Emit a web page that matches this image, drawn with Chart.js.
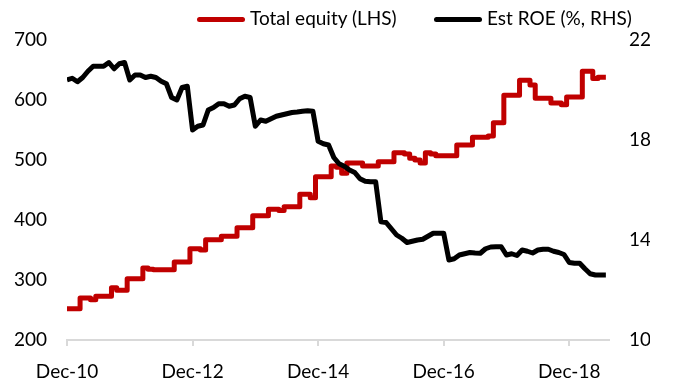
<!DOCTYPE html>
<html>
<head>
<meta charset="utf-8">
<script src="https://cdn.jsdelivr.net/npm/chart.js@4"></script>
<style>
    body { margin: 0; background: #fff; }
    #wrap { position: relative; width: 673px; height: 391px; }
    .legend { position: absolute; top: 6px; font: 19px Lato, sans-serif; color: #000; white-space: nowrap; }
    .legend .swatch { position: absolute; top: 11px; width: 48px; height: 5px; border-radius: 3px; }
    .legend .label { position: absolute; top: 0; }
</style>
</head>
<body>
<div id="wrap">
    <canvas id="chart"></canvas>
    <div class="legend">
        <span class="swatch" style="left:197px;background:#c00000"></span>
        <span class="label" style="left:250px">Total equity (LHS)</span>
        <span class="swatch" style="left:434px;background:#000"></span>
        <span class="label" style="left:487px">Est ROE (%, RHS)</span>
    </div>
</div>
<script>
// Months since Dec-10, one point per month
const tickMonths = [0, 24, 48, 72, 96];
const tickLabels = ['Dec-10', 'Dec-12', 'Dec-14', 'Dec-16', 'Dec-18'];

// Total equity (LHS)
const equity = [
    252, 252, 252, 270, 270, 267, 273, 273, 273, 287,
    283, 283, 302, 302, 302, 320, 318, 317, 317, 317,
    317, 330, 330, 330, 352, 352, 350, 367, 367, 367,
    373, 373, 373, 387, 387, 387, 407, 407, 407, 418,
    418, 416, 422, 422, 422, 443, 443, 437, 472, 472,
    472, 490, 488, 478, 495, 495, 495, 490, 490, 490,
    497, 497, 497, 512, 512, 510, 503, 500, 495, 512,
    510, 507, 507, 507, 507, 525, 525, 525, 538, 538,
    538, 540, 562, 562, 608, 608, 608, 633, 633, 625,
    603, 603, 603, 595, 595, 592, 605, 605, 605, 648,
    648, 636, 638, 638
];

// Est ROE (%, RHS)
const roe = [
    20.4, 20.47, 20.33, 20.5, 20.75, 20.95, 20.95, 20.95, 21.1, 20.85,
    21.05, 21.1, 20.4, 20.6, 20.6, 20.5, 20.55, 20.5, 20.35, 20.25,
    19.7, 19.6, 20.1, 20.15, 18.4, 18.55, 18.6, 19.2, 19.3, 19.45,
    19.45, 19.35, 19.4, 19.65, 19.75, 19.7, 18.55, 18.8, 18.75, 18.85,
    18.95, 19.0, 19.05, 19.1, 19.12, 19.15, 19.17, 19.15, 17.95, 17.85,
    17.8, 17.3, 17.05, 16.95, 16.8, 16.7, 16.45, 16.35, 16.33, 16.33,
    14.73, 14.7, 14.45, 14.2, 14.07, 13.9, 13.95, 14.0, 14.03, 14.15,
    14.27, 14.27, 14.27, 13.2, 13.25, 13.4, 13.45, 13.5, 13.48, 13.47,
    13.65, 13.72, 13.73, 13.73, 13.4, 13.45, 13.38, 13.6, 13.55, 13.48,
    13.6, 13.63, 13.63, 13.55, 13.5, 13.42, 13.1, 13.07, 13.07, 12.85,
    12.65, 12.6, 12.6, 12.6
];

Chart.defaults.font.family = 'Lato, sans-serif';
Chart.defaults.font.size = 19;
Chart.defaults.color = '#000';

const toPoints = arr => arr.map((v, i) => ({ x: i, y: v }));

new Chart(document.getElementById('chart'), {
    type: 'line',
    data: {
        datasets: [{
            label: 'Total equity (LHS)',
            data: toPoints(equity),
            borderColor: '#c00000',
            borderWidth: 5,
            borderJoinStyle: 'round',
            stepped: 'middle',
            pointRadius: 0,
            yAxisID: 'y',
            order: 2
        }, {
            label: 'Est ROE (%, RHS)',
            data: toPoints(roe),
            borderColor: '#000',
            borderWidth: 5,
            borderJoinStyle: 'round',
            pointRadius: 0,
            yAxisID: 'y2',
            order: 1
        }]
    },
    options: {
        responsive: true,
        maintainAspectRatio: false,
        animation: false,
        layout: { padding: { top: 40, left: 14, right: 23, bottom: 0 } },
        plugins: {
            legend: { display: false },
            tooltip: { enabled: false }
        },
        scales: {
            x: {
                type: 'linear',
                min: 0,
                max: 103.6,
                afterBuildTicks: s => { s.ticks = tickMonths.map(v => ({ value: v })); },
                ticks: {
                    padding: 14,
                    maxRotation: 0,
                    callback: v => tickLabels[tickMonths.indexOf(v)]
                },
                grid: { drawOnChartArea: false, drawTicks: true, tickLength: 6, color: '#d9d9d9', lineWidth: 2 },
                border: { color: '#d9d9d9', width: 2 },
                afterFit: s => { s.height = 51; }
            },
            y: {
                position: 'left',
                min: 200,
                max: 700,
                ticks: { stepSize: 100, padding: 20 },
                grid: { display: false, drawTicks: false },
                border: { display: false },
                afterFit: s => { s.width = 53; }
            },
            y2: {
                position: 'right',
                min: 10,
                max: 22,
                ticks: { stepSize: 4, padding: 20 },
                grid: { display: false, drawTicks: false },
                border: { display: false },
                afterFit: s => { s.width = 41; }
            }
        }
    }
});
</script>
</body>
</html>
